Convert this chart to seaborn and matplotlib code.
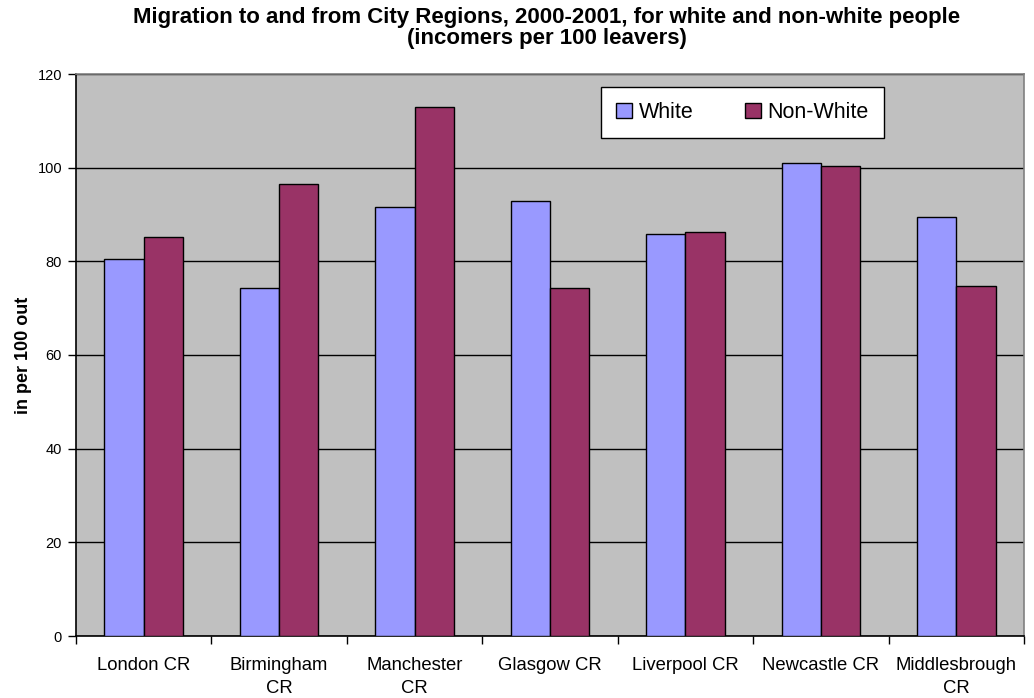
import matplotlib
matplotlib.use("Agg")
import matplotlib.pyplot as plt
from matplotlib.ticker import FixedLocator
import pandas as pd
import seaborn as sns

regions = ["London CR", "Birmingham\nCR", "Manchester\nCR", "Glasgow CR",
           "Liverpool CR", "Newcastle CR", "Middlesbrough\nCR"]
white = [80.4, 74.4, 91.7, 92.9, 85.8, 100.9, 89.5]
non_white = [85.1, 96.5, 112.9, 74.3, 86.2, 100.4, 74.7]
series = ["White", "Non-White"]
colors = ["#9999FF", "#993366"]

df = pd.DataFrame({
    "region": regions * 2,
    "group": [series[0]] * len(regions) + [series[1]] * len(regions),
    "value": white + non_white,
})

sns.set_style("white")
plt.rcParams["font.family"] = ["Liberation Sans", "DejaVu Sans"]
plt.rcParams.update({"text.color": "black", "axes.labelcolor": "black",
                     "xtick.color": "black", "ytick.color": "black"})

fig = plt.figure(figsize=(10.34, 6.98), dpi=100)
ax = fig.add_axes([76 / 1034, 62 / 698, 948 / 1034, 562 / 698])
ax.set_facecolor("#C0C0C0")

sns.barplot(data=df, x="region", y="value", hue="group", order=regions,
            hue_order=series, palette=colors, width=0.58,
            edgecolor="black", linewidth=1.0, saturation=1, ax=ax, zorder=3)

ax.set_ylim(0, 120)
ax.set_xlim(-0.5, len(regions) - 0.5)
ax.set_yticks(range(0, 121, 20))
ax.yaxis.grid(True, color="black", linewidth=1.0, zorder=1)
ax.set_axisbelow(True)
ax.xaxis.grid(False)

ax.set_xlabel("")
ax.set_ylabel("in per 100 out", fontsize=13, fontweight="bold", labelpad=4)
ax.tick_params(axis="y", which="major", length=6, width=1, direction="out",
               labelsize=10.5, color="black", labelcolor="black", left=True, pad=4)
ax.tick_params(axis="x", which="major", length=0, labelsize=13.3, pad=15,
               labelcolor="black")
for lab in ax.get_xticklabels():
    lab.set_linespacing(1.5)
ax.xaxis.set_minor_locator(FixedLocator([i - 0.5 for i in range(len(regions) + 1)]))
ax.tick_params(axis="x", which="minor", length=6, width=1, direction="out",
               color="black", bottom=True)

for side in ["left", "bottom"]:
    ax.spines[side].set_color("black")
    ax.spines[side].set_linewidth(1.2)
for side in ["top", "right"]:
    ax.spines[side].set_color("#808080")
    ax.spines[side].set_linewidth(1.2)

leg = ax.legend(loc="upper left", bbox_to_anchor=(525 / 948, 549 / 562), ncol=2,
                fontsize=15.5, frameon=True, fancybox=False, edgecolor="black",
                handlelength=0.75, handleheight=0.75, handletextpad=0.3,
                columnspacing=2.4, borderpad=0.7, borderaxespad=0, title=None)
leg.get_frame().set_linewidth(1.0)
leg.get_frame().set_facecolor("white")
leg.get_frame().set_alpha(1)
for t in leg.get_texts():
    t.set_color("black")

fig.text(547 / 1034, 1 - 28 / 698,
         "Migration to and from City Regions, 2000-2001, for white and non-white people\n(incomers per 100 leavers)",
         ha="center", va="center", fontsize=16, fontweight="bold", linespacing=1.05,
         color="black")

fig.savefig("out.png", dpi=100, facecolor="white")
